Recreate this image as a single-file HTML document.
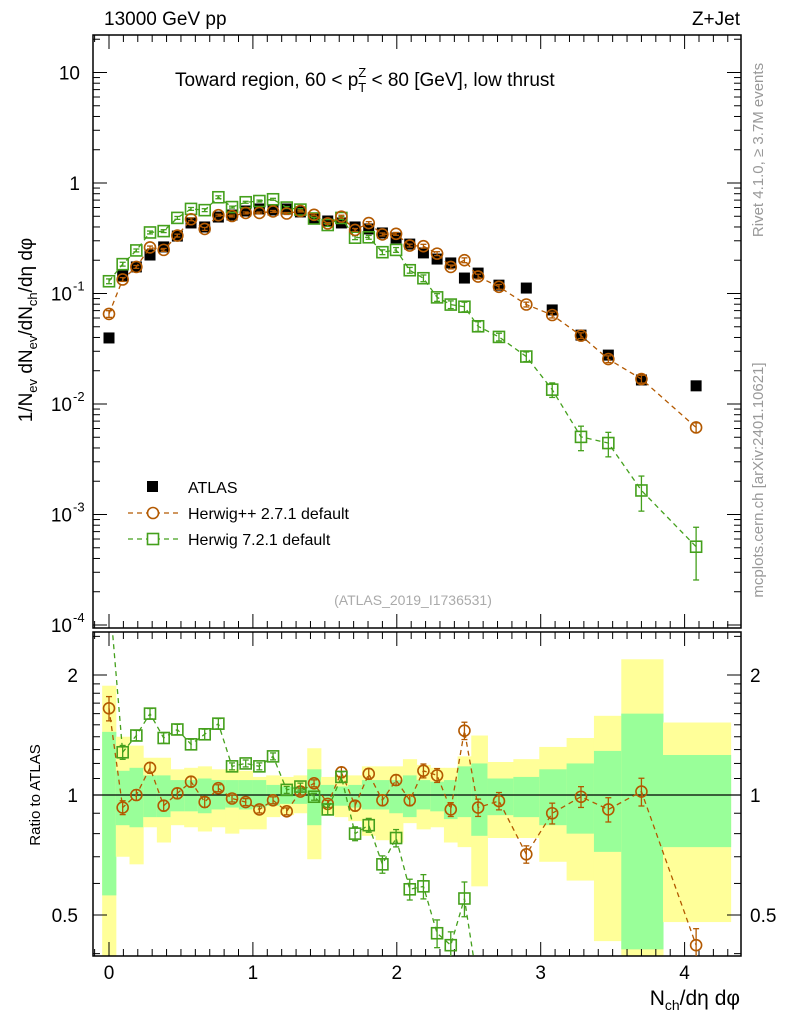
<!DOCTYPE html>
<html><head><meta charset="utf-8"><style>
html,body{margin:0;background:#fff;overflow:hidden;width:786px;height:1024px;}
svg{display:block;font-family:"Liberation Sans",sans-serif;}
#c{position:absolute;left:0;top:0;}
</style></head><body>
<svg id="c" width="786" height="1024" viewBox="0 0 786 1024"></svg>
<script>
// ---- data ----
const xDense=[0,0.095,0.19,0.285,0.38,0.475,0.57,0.665,0.76,0.855,0.95,1.045,1.14,1.235,1.33,1.425,1.52,1.615,1.71,1.805,1.9,1.995,2.09,2.185,2.28,2.375,2.47,2.565];
const xTail=[2.71,2.90,3.08,3.28,3.47,3.70,4.08];
const atlasVals=[0.0396,0.144,0.174,0.223,0.264,0.331,0.435,0.400,0.492,0.513,0.558,0.582,0.570,0.582,0.547,0.482,0.453,0.435,0.400,0.384,0.353,0.318,0.280,0.233,0.205,0.189,0.138,0.153,
 0.119,0.112,0.071,0.042,0.0277,0.0165,0.0146];
const herwigppRatio=[1.65,0.93,1.0,1.17,0.94,1.01,1.08,0.96,1.04,0.98,0.96,0.92,0.97,0.91,1.02,1.07,0.95,1.14,0.94,1.13,0.97,1.09,0.97,1.15,1.12,0.92,1.45,0.93,
 0.966,0.71,0.90,0.99,0.92,1.02,0.42];
const herwig7Ratio=[3.26,1.28,1.41,1.60,1.39,1.46,1.34,1.42,1.51,1.18,1.20,1.18,1.25,1.03,1.05,0.99,0.92,1.11,0.80,0.84,0.67,0.78,0.58,0.59,0.45,0.42,0.55,0.33,
 0.34,0.24,0.19,0.12,0.16,0.10,0.035];
const herwigppErr=[0.07,0.04,0.03,0.03,0.03,0.03,0.03,0.03,0.02,0.02,0.02,0.02,0.02,0.02,0.02,0.02,0.02,0.03,0.03,0.03,0.03,0.03,0.03,0.04,0.04,0.04,0.05,0.05,0.05,0.05,0.06,0.06,0.07,0.08,0.1];
const herwig7Err=[0.05,0.04,0.03,0.03,0.03,0.03,0.03,0.03,0.03,0.02,0.02,0.02,0.02,0.02,0.02,0.02,0.03,0.03,0.04,0.04,0.05,0.05,0.06,0.07,0.08,0.08,0.1,0.1,0.08,0.1,0.15,0.25,0.25,0.35,0.5];
const binEdges=[-0.0475,0.0475,0.1425,0.2375,0.3325,0.4275,0.5225,0.6175,0.7125,0.8075,0.9025,0.9975,1.0925,1.1875,1.2825,1.3775,1.4725,1.5675,1.6625,1.7575,1.8525,1.9475,2.0425,2.1375,2.2325,2.3275,2.4225,2.5175,2.63,2.81,2.99,3.18,3.37,3.56,3.85,4.32];
const yellowHi=[1.88,1.40,1.33,1.24,1.24,1.16,1.17,1.18,1.16,1.16,1.15,1.11,1.12,1.11,1.12,1.31,1.11,1.12,1.12,1.18,1.18,1.18,1.23,1.19,1.17,1.17,1.25,1.41,1.21,1.23,1.32,1.39,1.58,2.19,1.52];
const yellowLo=[0.30,0.70,0.67,0.83,0.76,0.84,0.83,0.81,0.83,0.80,0.82,0.82,0.88,0.89,0.90,0.69,0.89,0.88,0.86,0.79,0.77,0.76,0.85,0.82,0.83,0.76,0.74,0.59,0.78,0.78,0.68,0.61,0.43,0.30,0.48];
const greenHi=[1.44,1.15,1.17,1.12,1.12,1.09,1.09,1.10,1.09,1.09,1.09,1.09,1.06,1.05,1.05,1.16,1.06,1.05,1.06,1.09,1.09,1.09,1.12,1.09,1.08,1.09,1.18,1.20,1.10,1.11,1.16,1.20,1.29,1.60,1.26];
const greenLo=[0.56,0.84,0.83,0.88,0.88,0.91,0.91,0.90,0.92,0.93,0.92,0.93,0.94,0.95,0.95,0.84,0.94,0.94,0.93,0.92,0.92,0.90,0.88,0.92,0.91,0.87,0.88,0.79,0.89,0.88,0.84,0.80,0.72,0.41,0.74];
const mainTicks=["10","1"];

// ---- geometry ----
const L=93,R=741,MT=35,MB=628,RT=632,RB=956;
const X=v=>109+v*143.9;
const clampY=(y,a,b)=>Math.max(a,Math.min(b,y));
const YM=v=>clampY(183-Math.log10(v)*110.5,20,640);
const YR=v=>clampY(795-Math.log2(v)*120,580,1010);
const xs=xDense.concat(xTail);
const NS="http://www.w3.org/2000/svg";
const svg=document.getElementById('c');
function el(t,a,p){const e=document.createElementNS(NS,t);for(const k in a)e.setAttribute(k,a[k]);(p||svg).appendChild(e);return e;}
function txt(s,a,p){const e=el('text',a,p);e.textContent=s;return e;}

const defs=el('defs',{});
const cp1=el('clipPath',{id:'cm'},defs);el('rect',{x:L,y:MT,width:R-L,height:MB-MT},cp1);
const cp2=el('clipPath',{id:'cr'},defs);el('rect',{x:L,y:RT,width:R-L,height:RB-RT},cp2);

// ---- ratio bands ----
const bands=el('g',{'clip-path':'url(#cr)'});


for(let i=0;i<yellowHi.length;i++){
  const x0=X(binEdges[i]),x1=Math.min(X(binEdges[i+1]),R);
  const y=el('rect',{x:x0,y:YR(yellowHi[i]),width:x1-x0+0.5,height:YR(yellowLo[i])-YR(yellowHi[i]),fill:'#ffff99'},bands);
  
  
  const g=el('rect',{x:x0,y:YR(greenHi[i]),width:x1-x0+0.5,height:YR(greenLo[i])-YR(greenHi[i]),fill:'#99ff99'},bands);
  
  
}
el('line',{x1:L,x2:R,y1:YR(1),y2:YR(1),stroke:'#000','stroke-width':1.3});

// ---- frames ----
const f1=el('rect',{x:L,y:MT,width:R-L,height:MB-MT,fill:'none',stroke:'#000','stroke-width':1.5});

const f2=el('rect',{x:L,y:RT,width:R-L,height:RB-RT,fill:'none',stroke:'#000','stroke-width':1.5});


// ---- x ticks ----
for(let k=-1;k<=44;k++){
  const v=k*0.1;const px=X(v);if(px<L||px>R)continue;
  const maj=k%10===0;const len=maj?14:7;
  [[MT,1],[MB,-1],[RT,1],[RB,-1]].forEach(([y0,d])=>el('line',{x1:px,x2:px,y1:y0,y2:y0+d*len,stroke:'#000','stroke-width':1}));
  if(maj){const t=txt(String(k/10),{x:px,y:979,'font-size':19,'text-anchor':'middle'});
    }
}
// ---- main y ticks ----
for(let e=-4;e<=1;e++){
  const y=YM(Math.pow(10,e));
  el('line',{x1:L,x2:L+14,y1:y,y2:y,stroke:'#000'});el('line',{x1:R,x2:R-14,y1:y,y2:y,stroke:'#000'});
  for(let m=2;m<=9;m++){const ym=183-Math.log10(m*Math.pow(10,e))*110.5;if(ym<MT)continue;
    el('line',{x1:L,x2:L+7,y1:ym,y2:ym,stroke:'#000'});el('line',{x1:R,x2:R-7,y1:ym,y2:ym,stroke:'#000'});}
  let t;
  if(e>=0){t=txt(mainTicks[1-e],{x:80,y:y+7,'font-size':19,'text-anchor':'end'});}
  else{t=txt('10',{x:72,y:y+7,'font-size':19,'text-anchor':'end'});
    txt(String(e),{x:73,y:y-3,'font-size':13,'text-anchor':'start'},svg);}
  
}
// ---- ratio y ticks ----
[0.4,0.5,0.6,0.7,0.8,0.9,1,1.1,1.2,1.3,1.4,1.5,1.6,1.7,1.8,1.9,2,2.5].forEach(v=>{
  const y=795-Math.log2(v)*120;if(y<RT||y>RB)return;const maj=(v===0.5||v===1||v===2);const len=maj?14:7;
  el('line',{x1:L,x2:L+len,y1:y,y2:y,stroke:'#000'});el('line',{x1:R,x2:R-len,y1:y,y2:y,stroke:'#000'});
  if(maj){const a=txt(String(v),{x:78,y:y+7,'font-size':19,'text-anchor':'end'});
    
    const b=txt(String(v),{x:750,y:y+7,'font-size':19});
    }
});

// ATLAS points (drawn first, MC overlays)
const ag=el('g',{});

xs.forEach((x,i)=>{const r=el('rect',{x:X(x)-5.5,y:YM(atlasVals[i])-5.5,width:11,height:11,fill:'#000'},ag);
  });

// ---- series ----
const YRv=(v)=>YR(v);
const YMv=(v,i)=>YM(atlasVals[i]*v);
function drawSeries(ratio,err,color,shape,ratioY,clip,name){
  const g=el('g',{'clip-path':'url(#'+clip+')'});
  
  const isR=ratioY===YRv;
  const pts=xs.map((x,i)=>[X(x),ratioY(ratio[i],i)]);
  el('polyline',{points:pts.map(p=>p.join(',')).join(' '),fill:'none',stroke:color,'stroke-width':1.3,'stroke-dasharray':'5,4'},g);
  pts.forEach((p,i)=>{
    const v=isR?ratio[i]:atlasVals[i]*ratio[i];
    const hi=isR?YR(v*(1+err[i])):YM(v*(1+err[i])),lo=isR?YR(v*(1-err[i])):YM(Math.max(v*(1-err[i]),1e-6));
    el('line',{x1:p[0],x2:p[0],y1:hi,y2:lo,stroke:color,'stroke-width':1.3},g);
    el('line',{x1:p[0]-3,x2:p[0]+3,y1:hi,y2:hi,stroke:color,'stroke-width':1.3},g);
    el('line',{x1:p[0]-3,x2:p[0]+3,y1:lo,y2:lo,stroke:color,'stroke-width':1.3},g);
    let m;
    if(shape==='c')m=el('circle',{cx:p[0],cy:p[1],r:5.5,fill:'none',stroke:color,'stroke-width':1.6},g);
    else m=el('rect',{x:p[0]-5.5,y:p[1]-5.5,width:11,height:11,fill:'none',stroke:color,'stroke-width':1.6},g);
    
    
  });
}
drawSeries(herwig7Ratio,herwig7Err,'#44a01c','s',YMv,'cm','herwig7-main');
drawSeries(herwigppRatio,herwigppErr,'#b35900','c',YMv,'cm','herwigpp-main');
drawSeries(herwigppRatio,herwigppErr,'#b35900','c',YRv,'cr','herwigpp-ratio');
drawSeries(herwig7Ratio,herwig7Err,'#44a01c','s',YRv,'cr','herwig7-ratio');
</script>
<svg width="786" height="1024" style="position:absolute;left:0;top:0;font-family:'Liberation Sans',sans-serif">
<text x="104" y="25" font-size="19">13000 GeV pp</text>
<text x="740" y="25" font-size="19" text-anchor="end">Z+Jet</text>
<text x="175" y="86" font-size="19">Toward region, 60 &lt; p<tspan font-size="13" dy="6">T</tspan><tspan font-size="13" dx="-8" dy="-15">Z</tspan><tspan dy="9"> &lt; 80 [GeV], low thrust</tspan></text>
<text transform="translate(32,330) rotate(-90)" font-size="19" text-anchor="middle">1/N<tspan font-size="13" dy="5">ev</tspan><tspan dy="-5"> dN</tspan><tspan font-size="13" dy="5">ev</tspan><tspan dy="-5">/dN</tspan><tspan font-size="13" dy="5">ch</tspan><tspan dy="-5">/dη dφ</tspan></text>
<text transform="translate(40,795) rotate(-90)" font-size="15" text-anchor="middle">Ratio to ATLAS</text>
<text x="740" y="1005" font-size="21" text-anchor="end">N<tspan font-size="14" dy="5">ch</tspan><tspan dy="-5">/dη dφ</tspan></text>
<text transform="translate(763,150) rotate(-90)" font-size="15" fill="#999" text-anchor="middle">Rivet 4.1.0, ≥ 3.7M events</text>
<text transform="translate(763,480) rotate(-90)" font-size="15" fill="#999" text-anchor="middle">mcplots.cern.ch [arXiv:2401.10621]</text>
<text x="413" y="605" font-size="14" fill="#aaa" text-anchor="middle">(ATLAS_2019_I1736531)</text>
<g>
<rect x="147" y="481" width="11" height="11" fill="#000"/>
<text x="188" y="493" font-size="16">ATLAS</text>
<line x1="128" x2="178" y1="513" y2="513" stroke="#b35900" stroke-width="1.3" stroke-dasharray="5,4"/>
<circle cx="153" cy="513" r="5.5" fill="#fff" stroke="#b35900" stroke-width="1.6"/>
<text x="188" y="519" font-size="16">Herwig++ 2.7.1 default</text>
<line x1="128" x2="178" y1="539" y2="539" stroke="#44a01c" stroke-width="1.3" stroke-dasharray="5,4"/>
<rect x="147.5" y="533.5" width="11" height="11" fill="#fff" stroke="#44a01c" stroke-width="1.6"/>
<text x="188" y="545" font-size="16">Herwig 7.2.1 default</text>
</g>
</svg>
</body></html>
